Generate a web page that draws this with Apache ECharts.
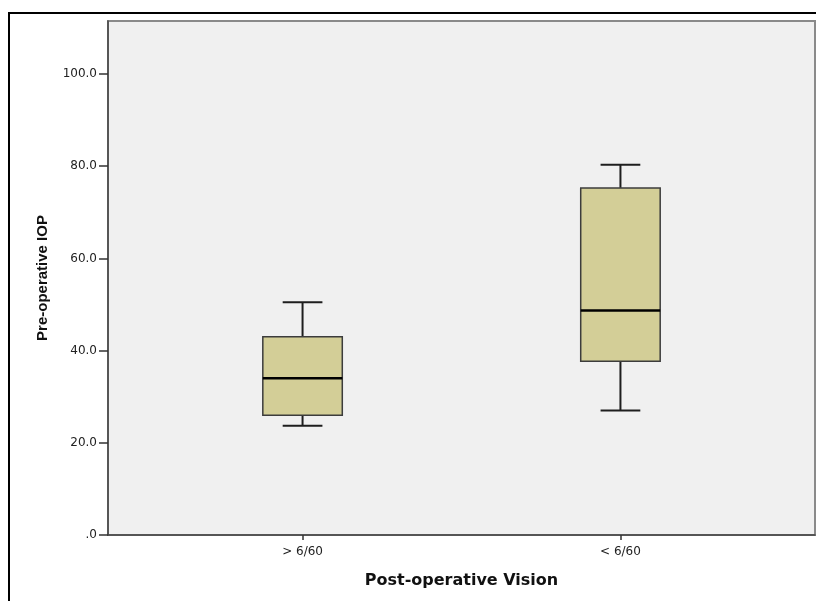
<!DOCTYPE html>
<html>
<head>
<meta charset="utf-8">
<script src="https://cdn.jsdelivr.net/npm/echarts@6/dist/echarts.min.js"></script>
<style>html,body{margin:0;padding:0;background:#fff;}#c{width:816px;height:601px;}</style>
</head>
<body>
<div id="c"></div>
<script>
const categories = ['> 6/60', '< 6/60'];
const catPositions = [1, 2];
const whiskerLow = [23.7, 27.0];
const q1 = [26.0, 37.7];
const median = [34.0, 48.7];
const q3 = [43.0, 75.3];
const whiskerHigh = [50.5, 80.3];
const yTicks = [0, 20, 40, 60, 80, 100];

const data = categories.map((c, i) => [catPositions[i], whiskerLow[i], q1[i], median[i], q3[i], whiskerHigh[i]]);

const chart = echarts.init(document.getElementById('c'));
chart.setOption({
  animation: false,
  backgroundColor: '#ffffff',
  graphic: [{
    type: 'rect', z: 100, silent: true,
    shape: { x: 9, y: 13, width: 900, height: 700 },
    style: { fill: 'none', stroke: '#000', lineWidth: 2 }
  }],
  grid: {
    left: 108, top: 21, width: 707, height: 514,
    show: true, backgroundColor: '#f0f0f0', borderColor: '#8a8a8a', borderWidth: 2
  },
  xAxis: {
    type: 'value', min: 0.388, max: 2.612,
    name: 'Post-operative Vision', nameLocation: 'middle', nameGap: 38,
    nameTextStyle: { fontFamily: 'DejaVu Sans', fontWeight: 'bold', fontSize: 16, color: '#111' },
    axisLine: { show: true, onZero: false, lineStyle: { color: '#444', width: 1.5 } },
    axisTick: { show: true, length: 5, customValues: catPositions, lineStyle: { color: '#333', width: 1.5 } },
    axisLabel: { customValues: catPositions, margin: 11, fontFamily: 'DejaVu Sans', fontSize: 12, color: '#222',
      formatter: v => categories[catPositions.indexOf(Math.round(v))] || '' },
    splitLine: { show: false }
  },
  yAxis: {
    type: 'value', min: 0, max: 111.5,
    name: 'Pre-operative IOP', nameLocation: 'middle', nameGap: 58,
    nameTextStyle: { fontFamily: 'Liberation Sans', fontWeight: 'bold', fontSize: 15, color: '#111' },
    axisLine: { show: true, lineStyle: { color: '#444', width: 1.5 } },
    axisTick: { show: true, length: 9, customValues: yTicks, lineStyle: { color: '#333', width: 1.5 } },
    axisLabel: { customValues: yTicks, margin: 11, fontFamily: 'DejaVu Sans', fontSize: 12, color: '#222',
      formatter: v => v === 0 ? '.0' : v.toFixed(1) },
    splitLine: { show: false }
  },
  series: [{
    type: 'custom',
    data: data,
    encode: { x: 0, y: [1, 2, 3, 4, 5] },
    renderItem: function (params, api) {
      const x = api.value(0);
      const pLow = api.coord([x, api.value(1)]);
      const pQ1 = api.coord([x, api.value(2)]);
      const pMed = api.coord([x, api.value(3)]);
      const pQ3 = api.coord([x, api.value(4)]);
      const pHigh = api.coord([x, api.value(5)]);
      const bw = api.size([0.25, 0])[0];
      const cw = bw / 2;
      const cx = pMed[0];
      const lineStyle = { stroke: '#1e1e1e', lineWidth: 2 };
      return {
        type: 'group',
        children: [
          { type: 'line', shape: { x1: cx, y1: pQ3[1], x2: cx, y2: pHigh[1] }, style: lineStyle },
          { type: 'line', shape: { x1: cx, y1: pQ1[1], x2: cx, y2: pLow[1] }, style: lineStyle },
          { type: 'line', shape: { x1: cx - cw / 2, y1: pHigh[1], x2: cx + cw / 2, y2: pHigh[1] }, style: lineStyle },
          { type: 'line', shape: { x1: cx - cw / 2, y1: pLow[1], x2: cx + cw / 2, y2: pLow[1] }, style: lineStyle },
          { type: 'rect', shape: { x: cx - bw / 2, y: pQ3[1], width: bw, height: pQ1[1] - pQ3[1] },
            style: { fill: '#d3ce97', stroke: '#3c3c3c', lineWidth: 1.5 } },
          { type: 'line', shape: { x1: cx - bw / 2, y1: pMed[1], x2: cx + bw / 2, y2: pMed[1] },
            style: { stroke: '#000', lineWidth: 2.5 } }
        ]
      };
    }
  }]
});
</script>
</body>
</html>
